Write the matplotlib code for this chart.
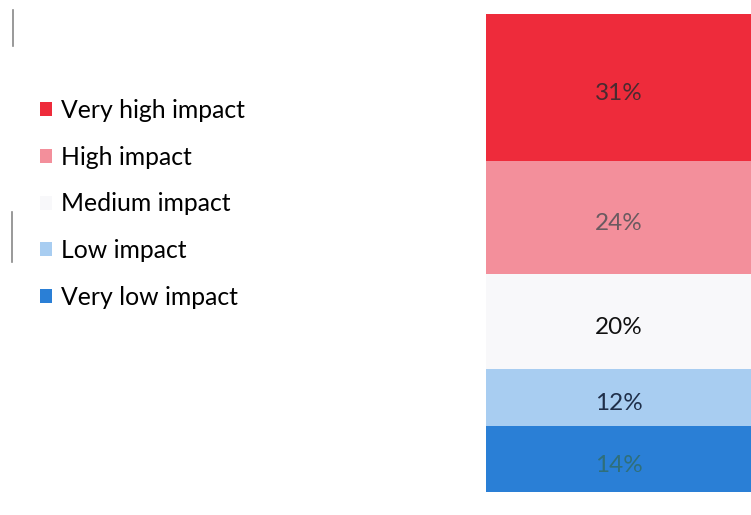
import matplotlib.pyplot as plt

# impact shares, bottom segment first
impact = ['Very low impact', 'Low impact', 'Medium impact', 'High impact', 'Very high impact']
share = [14, 12, 20, 24, 31]
colors = ['#2a7fd6', '#a8cdf1', '#f8f8fa', '#f38f9b', '#ee2b3b']
label_colors = ['#2f6f7a', '#1f2f4a', '#111111', '#6a5a60', '#4a2a30']

plt.rcParams['font.family'] = ['Lato', 'DejaVu Sans']

fig = plt.figure(figsize=(7.51, 5.15), dpi=100)
ax = fig.add_axes([486 / 751, 23 / 515, 265 / 751, 478 / 515])

bottom = 0
bars = []
for name, val, c, tc in zip(impact, share, colors, label_colors):
    b = ax.bar(0, val, width=2, bottom=bottom, align='edge', color=c,
               edgecolor='none', label=name)
    bars.append(b)
    ax.annotate(f'{val}%', (0.5, bottom + val / 2), xytext=(0, -3),
                textcoords='offset points', ha='center', va='center_baseline',
                fontsize=17.5, color=tc)
    bottom += val

ax.set_xlim(0, 1)
ax.set_ylim(0, bottom)
ax.axis('off')

fig.legend(bars[::-1], impact[::-1], loc='upper left', bbox_to_anchor=(40 / 751, 1 - 99 / 515),
           frameon=False, fontsize=17.8, handlelength=0.5, handleheight=0.5,
           handletextpad=0.35, labelspacing=0.96, borderaxespad=0, borderpad=0)

# stray vertical rules at the left margin
fig.add_artist(plt.Line2D([13 / 751, 13 / 751], [1 - 10 / 515, 1 - 46 / 515], color='#888888', lw=1.2))
fig.add_artist(plt.Line2D([12 / 751, 12 / 751], [1 - 212 / 515, 1 - 262 / 515], color='#888888', lw=1.2))

fig.savefig('out.png', dpi=100)
